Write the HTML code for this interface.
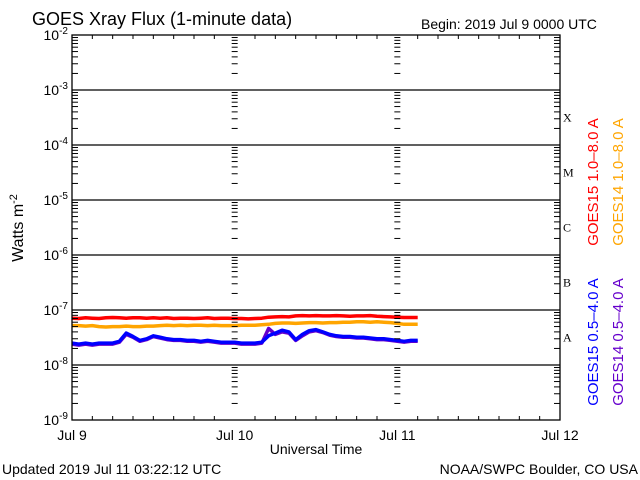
<!DOCTYPE html>
<html><head><meta charset="utf-8"><style>
html,body{margin:0;padding:0;background:#fff;}
svg{display:block;font-family:"Liberation Sans",sans-serif;}
</style></head><body>
<svg id="chart" width="640" height="480" viewBox="0 0 640 480" xmlns="http://www.w3.org/2000/svg">
<rect width="640" height="480" fill="#fff"/>
<text x="32" y="25" font-size="18" fill="#000">GOES Xray Flux (1-minute data)</text>
<text x="421" y="29" font-size="14" fill="#000">Begin:  2019 Jul 9 0000 UTC</text>
<text x="316" y="454" font-size="14" text-anchor="middle" fill="#000">Universal Time</text>
<text x="2" y="474" font-size="14" fill="#000">Updated 2019 Jul 11 03:22:12 UTC</text>
<text x="638" y="474" font-size="14" text-anchor="end" fill="#000">NOAA/SWPC Boulder, CO USA</text>
<text transform="translate(23,228) rotate(-90)" font-size="16" text-anchor="middle" fill="#000">Watts m<tspan dy="-6" font-size="11">-2</tspan></text>
<g id="grid"></g>
<g id="series"></g>
<g id="axes"></g>
<text transform="translate(598,182) rotate(-90)" font-size="15" text-anchor="middle" fill="#ff0000">GOES15 1.0–8.0 A</text>
<text transform="translate(623,182) rotate(-90)" font-size="15" text-anchor="middle" fill="#ffa500">GOES14 1.0–8.0 A</text>
<text transform="translate(598,342) rotate(-90)" font-size="15" text-anchor="middle" fill="#0000ff">GOES15 0.5–4.0 A</text>
<text transform="translate(623,342) rotate(-90)" font-size="15" text-anchor="middle" fill="#6600cc">GOES14 0.5–4.0 A</text>
</svg>
<script>
const dayLabels = ["Jul 9","Jul 10","Jul 11","Jul 12"];
const decadeExps = [-2,-3,-4,-5,-6,-7,-8,-9];
const flareClasses = ["X","M","C","B","A"];
const hours = [0,1,2,3,4,5,6,7,8,9,10,11,12,13,14,15,16,17,18,19,20,21,22,23,24,25,26,27,28,29,30,31,32,33,34,35,36,37,38,39,40,41,42,43,44,45,46,47,48,49,50,51];
const goes15Long = [7.1,7.0,7.2,7.1,7.0,7.2,7.3,7.2,7.1,7.2,7.2,7.1,7.2,7.1,7.2,7.0,7.1,7.1,7.0,7.1,7.2,7.0,7.1,7.1,7.0,7.0,6.9,7.0,7.1,7.4,7.5,7.6,7.5,7.8,7.9,7.8,7.9,7.8,7.8,7.9,7.8,7.7,7.8,7.8,7.9,7.7,7.6,7.5,7.4,7.3,7.3,7.3];
const goes14Long = [5.2,5.2,5.1,5.2,5.0,4.9,5.0,5.0,5.1,5.0,5.0,5.1,5.1,5.2,5.3,5.2,5.3,5.2,5.3,5.3,5.2,5.3,5.2,5.2,5.2,5.3,5.3,5.3,5.4,5.5,5.7,5.8,5.8,5.7,5.8,5.9,5.9,5.8,5.9,5.9,6.0,6.0,6.1,6.1,6.0,6.1,6.0,5.9,5.7,5.5,5.5,5.5];
const goes15Short = [2.5,2.4,2.5,2.4,2.5,2.5,2.5,2.7,3.8,3.3,2.8,3.0,3.4,3.2,3.0,2.9,2.9,2.8,2.8,2.7,2.8,2.7,2.6,2.6,2.6,2.5,2.5,2.5,2.6,3.4,3.8,4.3,4.0,2.9,3.6,4.2,4.4,4.0,3.6,3.4,3.3,3.3,3.2,3.2,3.1,3.0,3.0,2.9,2.8,2.7,2.8,2.8];
const goes14Short = [2.4,2.3,2.4,2.3,2.4,2.4,2.4,2.6,3.6,3.2,2.7,2.9,3.3,3.1,2.9,2.8,2.8,2.7,2.7,2.6,2.7,2.6,2.5,2.5,2.5,2.4,2.4,2.4,2.5,4.6,3.6,4.0,3.8,2.8,3.4,4.0,4.2,3.9,3.5,3.3,3.2,3.2,3.1,3.1,3.0,2.9,2.9,2.8,2.7,2.6,2.7,2.7];

const NS="http://www.w3.org/2000/svg";
const X0=72, X1=560, Y0=35, Y1=420;
const xScale = h => X0 + h*(X1-X0)/72;
const yScale = v => Y0 + (-2 - Math.log10(v))*(Y1-Y0)/7;
function mk(tag, attrs, parent){const e=document.createElementNS(NS,tag);for(const k in attrs)e.setAttribute(k,attrs[k]);parent.appendChild(e);return e;}
const grid=document.getElementById('grid'), axes=document.getElementById('axes'), series=document.getElementById('series');

// decade lines
decadeExps.forEach((e,i)=>{
  const y=yScale(Math.pow(10,e));
  if(e<-2 && e>-9){
    const l=mk('line',{x1:X0,x2:X1,y1:y,y2:y,stroke:'#000','stroke-width':1.3},grid);
    
    
  }
  const t=mk('text',{x:X0-4,y:y+5,'font-size':14,'text-anchor':'end',fill:'#000'},axes);
  
  
  t.textContent='10';
  const s=mk('tspan',{dy:-6,'font-size':10},t); s.textContent=String(e);
});
// minor ticks left, right, day lines
for(let e=-9;e<-2;e++){
  for(let m=2;m<=9;m++){
    const y=yScale(m*Math.pow(10,e));
    mk('line',{x1:X0,x2:X0+6,y1:y,y2:y,stroke:'#000'},axes);
    mk('line',{x1:X1-6,x2:X1,y1:y,y2:y,stroke:'#000'},axes);
    [1,2].forEach(d=>{const x=xScale(d*24);mk('line',{x1:x-3,x2:x+3,y1:y,y2:y,stroke:'#000'},axes);});
  }
}
// hour ticks
for(let h=3;h<72;h+=3){
  const x=xScale(h), len=(h%24===0)?0:4;
  if(len){mk('line',{x1:x,x2:x,y1:Y0,y2:Y0+len,stroke:'#000'},axes);mk('line',{x1:x,x2:x,y1:Y1,y2:Y1-len,stroke:'#000'},axes);}
}
// frame
const fr=mk('rect',{x:X0,y:Y0,width:X1-X0,height:Y1-Y0,fill:'none',stroke:'#000','stroke-width':1.3},axes);


// day labels
dayLabels.forEach((d,i)=>{
  const t=mk('text',{x:xScale(i*24),y:440,'font-size':14,'text-anchor':'middle',fill:'#000'},axes);
  
  
  t.textContent=d;
});
// flare classes
flareClasses.forEach((c,i)=>{
  const y=(yScale(Math.pow(10,-3-i))+yScale(Math.pow(10,-4-i)))/2;
  const t=mk('text',{x:X1+3,y:y+4,'font-size':12,'font-family':'Liberation Serif, serif',fill:'#000'},axes);
  
  
  t.textContent=c;
});
// series
function draw(vals,color,name){
  const pts=hours.map((h,i)=>xScale(h).toFixed(1)+','+yScale(vals[i]*1e-8).toFixed(1)).join(' ');
  const p=mk('polyline',{points:pts,fill:'none',stroke:color,'stroke-width':3.5,'stroke-linejoin':'round'},series);
  
  
}
draw(goes15Long,'#ff0000','goes15-long-line');
draw(goes14Long,'#ffa500','goes14-long-line');
draw(goes14Short,'#6600cc','goes14-short-line');
draw(goes15Short,'#0000ff','goes15-short-line');
</script>
</body></html>
